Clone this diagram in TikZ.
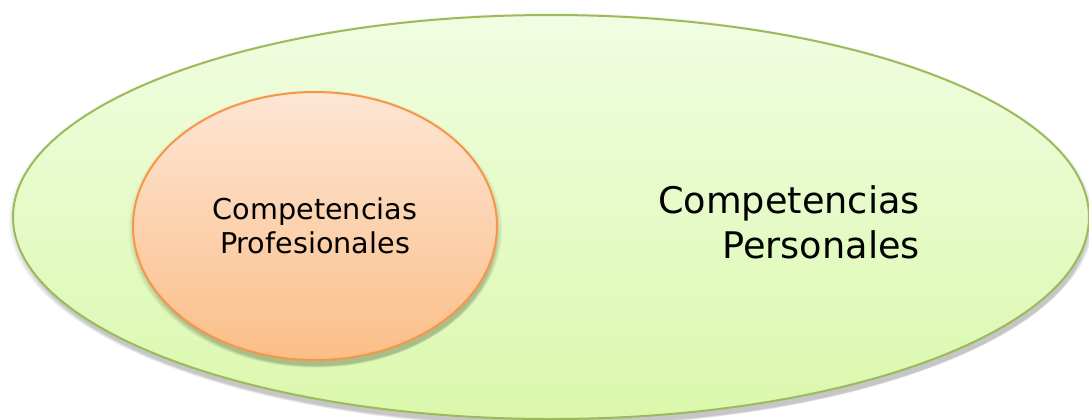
\documentclass[tikz,border=0pt]{standalone}
\usepackage{fontspec}
\setmainfont{DejaVu Sans}
\usetikzlibrary{shapes.geometric}
\definecolor{outerTop}{HTML}{F1FDE2}
\definecolor{outerBot}{HTML}{DAF8AC}
\definecolor{outerLine}{HTML}{9BBB59}
\definecolor{innerTop}{HTML}{FDE6D5}
\definecolor{innerBot}{HTML}{FBBE88}
\definecolor{innerLine}{HTML}{F79646}
\tikzset{
  bigoval/.style={ellipse, draw=outerLine, line width=1.5pt, top color=outerTop, bottom color=outerBot,
    minimum width=807pt, minimum height=303pt, inner sep=0pt},
  smalloval/.style={ellipse, draw=innerLine, line width=1.5pt, top color=innerTop, bottom color=innerBot,
    minimum width=273pt, minimum height=201pt, inner sep=0pt, align=center,
    font=\fontsize{21.5}{25.5}\selectfont},
  bigtext/.style={align=right, font=\fontsize{27.5}{33.5}\selectfont, inner sep=0pt},
}
\begin{document}
\begin{tikzpicture}[x=0.75pt,y=-0.75pt]
\useasboundingbox (0,0) rectangle (1089,419);
% soft shadow of outer oval
\foreach \i in {1,...,8}{
  \fill[black, opacity=0.03] (551+0.3*\i,219+0.9*\i) ellipse [x radius=538-1.2*\i+6, y radius=202-1.2*\i+6];
}
\node[bigoval] (outer) at (551,217) {};
% soft shadow of inner oval
\foreach \i in {1,...,8}{
  \fill[black, opacity=0.03] (315+0.3*\i,228+0.9*\i) ellipse [x radius=182-1.2*\i+6, y radius=134-1.2*\i+6];
}
\node[smalloval] (inner) at (315,226) {Competencias\\Profesionales};
\node[bigtext] (label) at (789,222) {Competencias\\Personales};
\end{tikzpicture}
\end{document}
